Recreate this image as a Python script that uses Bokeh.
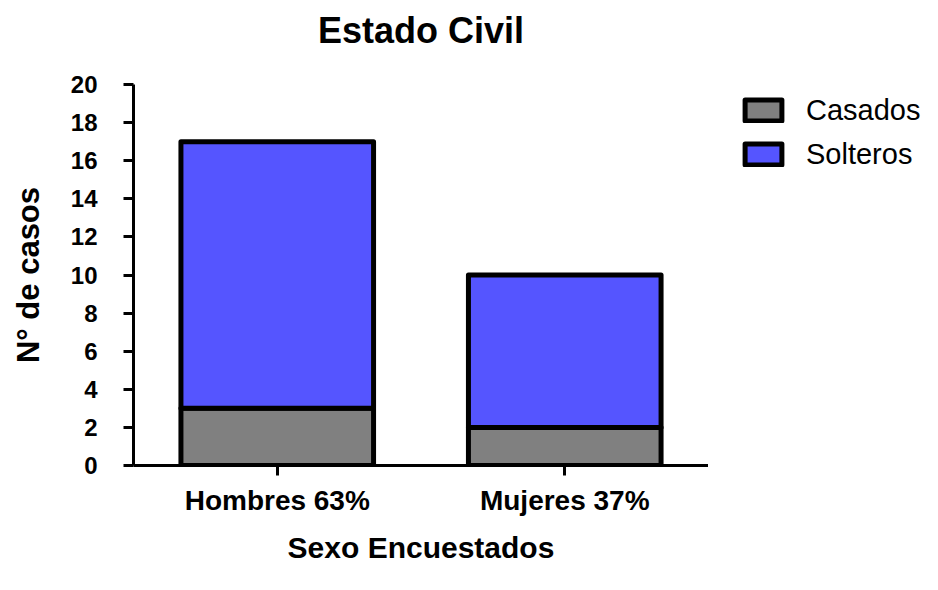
from bokeh.plotting import figure
from bokeh.layouts import row
from bokeh.models import ColumnDataSource, Legend, LegendItem, FixedTicker, Range1d, FactorRange, Title
from bokeh.embed import file_html
from bokeh.resources import INLINE

categories = ["Hombres 63%", "Mujeres 37%"]
series_names = ["Casados", "Solteros"]
casados = [3, 2]
solteros = [14, 8]
y_ticks = [0, 2, 4, 6, 8, 10, 12, 14, 16, 18, 20]
colors = ["#808080", "#5555FF"]

src = ColumnDataSource(dict(cat=categories, Casados=casados, Solteros=solteros))

FONT = "Liberation Sans"

p = figure(x_range=categories, y_range=Range1d(0, 20), width=708, height=574,
           output_backend="svg", toolbar_location=None,
           min_border_left=133, min_border_right=0, min_border_top=84, min_border_bottom=109)
p.background_fill_color = "white"
p.border_fill_color = "white"
p.outline_line_color = None
p.xgrid.grid_line_color = None
p.ygrid.grid_line_color = None

p.vbar_stack(series_names, x="cat", width=0.67, source=src,
             fill_color=colors, line_color="black", line_width=5, line_join="round")

# empty spacer between the frame and the title, so the title sits higher
p.add_layout(Title(text=" ", text_font_size="24px", standoff=0), "above")

p.title.text = "Estado Civil"
p.title.text_font = FONT
p.title.text_font_size = "36px"
p.title.text_font_style = "bold"
p.title.text_color = "black"
p.title.align = "center"
p.title.standoff = 10

for ax in (p.xaxis[0], p.yaxis[0]):
    ax.axis_line_width = 3
    ax.axis_line_color = "black"
    ax.major_tick_line_width = 3
    ax.major_tick_line_color = "black"
    ax.major_tick_out = 10
    ax.major_tick_in = 0
    ax.minor_tick_line_color = None
    ax.major_label_text_font = FONT
    ax.major_label_text_font_style = "bold"
    ax.major_label_text_color = "black"
    ax.axis_label_text_font = FONT
    ax.axis_label_text_font_style = "bold"
    ax.axis_label_text_color = "black"

p.yaxis.ticker = FixedTicker(ticks=y_ticks)
p.yaxis.major_label_text_font_size = "24px"
p.yaxis.major_label_standoff = 26
p.yaxis.axis_label = "N° de casos"
p.yaxis.axis_label_text_font_size = "31px"
p.yaxis.axis_label_standoff = 22

p.xaxis.major_label_text_font_size = "28px"
p.xaxis.major_label_standoff = 9
p.xaxis.axis_label = "Sexo Encuestados"
p.xaxis.axis_label_text_font_size = "30px"
p.xaxis.axis_label_standoff = 12
p.x_range.range_padding = 0

# Legend panel: same series, their categories are not on this panel's range,
# so no bars are drawn; only the legend entries show.
q = figure(x_range=FactorRange(factors=[" "]), y_range=Range1d(0, 20), width=214, height=574,
           output_backend="svg", toolbar_location=None,
           x_axis_location=None, y_axis_location=None,
           min_border_left=0, min_border_right=0, min_border_top=0, min_border_bottom=0)
q.outline_line_color = None
q.xgrid.visible = False
q.ygrid.visible = False
q.background_fill_color = "white"
q.border_fill_color = "white"
leg_renderers = q.vbar_stack(series_names, x="cat", width=0.67, source=src,
                             fill_color=colors, line_color="black", line_width=5,
                             line_join="round")

legend = Legend(items=[LegendItem(label=n, renderers=[r]) for n, r in zip(series_names, leg_renderers)],
                location=(32, 293), orientation="vertical")
legend.label_text_font = FONT
legend.label_text_font_size = "29px"
legend.label_text_color = "black"
legend.glyph_width = 46
legend.glyph_height = 26
legend.label_height = 36
legend.label_standoff = 20
legend.spacing = 8
legend.padding = 0
legend.margin = 0
legend.border_line_color = None
legend.background_fill_alpha = 0
q.add_layout(legend)

layout = row(p, q, spacing=0)
open("out.html", "w").write(file_html(layout, INLINE))
